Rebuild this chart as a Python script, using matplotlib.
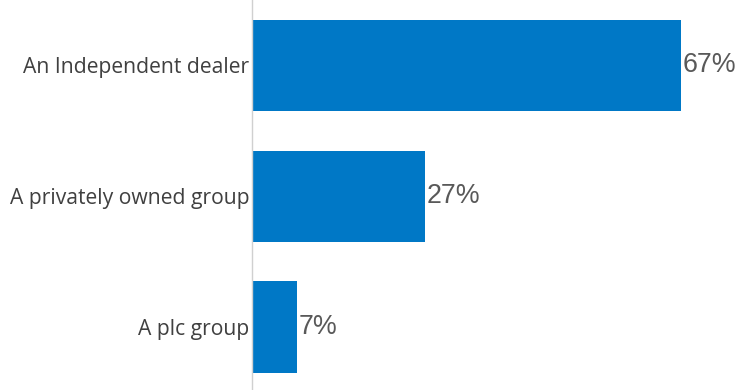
import matplotlib.pyplot as plt

# Dealer ownership shares
categories = ["An Independent dealer", "A privately owned group", "A plc group"]
shares = [67, 27, 7]

fig = plt.figure(figsize=(7.43, 3.9), dpi=100)
ax = fig.add_axes([252 / 743, 0, 1 - 252 / 743, 1])

ypos = list(range(len(categories)))
ax.barh(ypos, shares, height=0.7, color="#0078C6")

for y, v in zip(ypos, shares):
    ax.text(v + 0.3, y, f"{v}%", va="center", ha="left",
            fontsize=19.3, color="#595959", family="Liberation Sans")

ax.set_xlim(0, 76.7)
ax.set_ylim(2.48, -0.5)
ax.set_yticks(ypos)
ax.set_yticklabels(categories, fontsize=15.2, color="#404040", family="Open Sans")
ax.tick_params(axis="y", length=0, pad=2)
ax.set_xticks([])

for s in ["top", "right", "bottom"]:
    ax.spines[s].set_visible(False)
ax.spines["left"].set_color("#D0D0D0")
ax.spines["left"].set_linewidth(1)

fig.savefig("out.png", dpi=100)
